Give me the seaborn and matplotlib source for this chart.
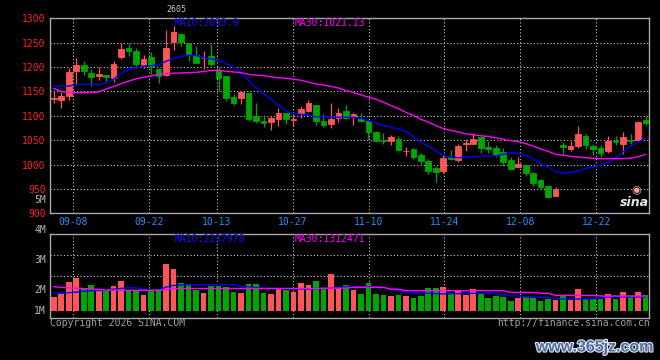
import numpy as np
import pandas as pd
import matplotlib
matplotlib.use("Agg")
import matplotlib.pyplot as plt
import matplotlib.transforms as mtransforms
import matplotlib.patheffects as pe
import seaborn as sns

# ---------------- data ----------------
dates = (["09-%s" % d for d in ["03","04","05","08","09","10","11","12","15","16","17","18","19","22","23","24","25","26","29","30"]]
         + ["10-%s" % d for d in ["09","10","13","14","15","16","17","20","21","22","23","24","27","28","29","30","31"]]
         + ["11-%s" % d for d in ["03","04","05","06","07","10","11","12","13","14","17","18","19","20","21","24","25","26","27","28"]]
         + ["12-%s" % d for d in ["01","02","03","04","05","08","09","10","11","12","15","16","17","18","19","22","23","24","25","26","29","30","31"]])

tick_labels = ["09-08", "09-22", "10-13", "10-27", "11-10", "11-24", "12-08", "12-22"]

opens = [1135, 1132.5, 1141, 1192, 1204, 1187, 1181, 1183, 1178, 1220,
         1240, 1232, 1204, 1220, 1195, 1183, 1251, 1268, 1250, 1224,
         1218, 1223, 1193, 1181, 1138, 1137, 1146, 1099, 1089, 1087,
         1093, 1106, 1091, 1103, 1110.5, 1121.5, 1090, 1083, 1095.5, 1109,
         1097.5, 1093.5, 1088.7, 1066, 1050, 1047.7, 1053, 1027, 1031, 1019,
         1006.7, 992.3, 986, 1015, 1009.4, 1043, 1042, 1056, 1035.4, 1034,
         1025.8, 1008.7, 995, 998.5, 982, 967.7, 956, 934.9, 1039.5, 1031.3,
         1038, 1058.6, 1037.4, 1034, 1028, 1049, 1043, 1051, 1049.7, 1092]
highs = [1150, 1149, 1199, 1218, 1212, 1195, 1201, 1184, 1213, 1250,
         1249, 1239, 1224, 1230, 1198, 1277, 1284, 1268, 1250, 1243,
         1233, 1247, 1200, 1181, 1145, 1148, 1146, 1126, 1101, 1100,
         1116, 1106, 1106, 1121, 1133, 1121.5, 1103, 1126, 1116, 1121.5,
         1105, 1106.5, 1090, 1069.6, 1064, 1060, 1058, 1035.4, 1034, 1023,
         1012, 997.8, 1019, 1029, 1041.5, 1052, 1064, 1056, 1049, 1039.5,
         1034, 1015.5, 1015.5, 998.5, 984.8, 969.8, 956, 953.3, 1046.3, 1049,
         1078.5, 1062, 1041.5, 1039.5, 1058.6, 1058, 1067, 1062, 1090, 1099]
lows = [1127, 1116, 1132, 1163, 1183, 1161, 1173, 1171, 1169, 1216,
        1223, 1199, 1198, 1186, 1167, 1181, 1235, 1243, 1212, 1208,
        1195, 1202, 1150, 1131, 1123, 1125, 1089, 1085, 1077, 1070,
        1080, 1083, 1080, 1096, 1108.5, 1080.5, 1077, 1074, 1087, 1094,
        1081, 1088, 1052.5, 1049, 1042, 1039.5, 1027, 1017.6, 1011, 1002,
        981.4, 964.3, 982, 1010, 1005.3, 1027, 1042, 1024.4, 1024.4, 1015.5,
        997, 990, 995, 976.6, 956, 949, 931.5, 934.9, 1019, 1028,
        1034, 1032.7, 1020.3, 1015.5, 1024.4, 1039.5, 1022, 1043, 1047.7, 1080.5]
closes = [1137, 1140, 1189, 1204, 1192, 1180, 1185, 1180, 1207, 1238,
          1232, 1207, 1216, 1201, 1182, 1239, 1271, 1251, 1226, 1208,
          1219.5, 1206, 1178, 1137, 1127, 1148, 1093.5, 1089, 1086, 1095,
          1106.5, 1093.5, 1094, 1113, 1127, 1090, 1082, 1093, 1105, 1095.5,
          1103, 1088.7, 1067, 1049, 1049, 1056, 1029, 1028, 1015, 1006.7,
          986.8, 984, 1012.8, 1010.8, 1037.4, 1044, 1052, 1034, 1032.7, 1020,
          1005.3, 991.6, 1000.5, 982, 961.5, 953.3, 933.5, 949.2, 1036.8, 1037.4,
          1062, 1039.5, 1032.7, 1024.4, 1048.4, 1047, 1056, 1047.7, 1086.7, 1086]

ma10 = [1160.5, 1160.5, 1161, 1164, 1164.6, 1164.6, 1164.6, 1166.7, 1175, 1187,
        1195, 1199, 1202, 1203, 1204, 1212, 1217, 1222, 1224, 1224,
        1219, 1217, 1213, 1207, 1200, 1188, 1172, 1158, 1145, 1134,
        1122, 1110, 1104, 1103, 1101, 1098, 1097.6, 1097.6, 1097, 1097,
        1097, 1095, 1090, 1085, 1080, 1077, 1073, 1068, 1058, 1046,
        1038, 1028, 1019, 1015, 1014, 1015, 1016, 1017, 1018, 1018,
        1021, 1023.8, 1023, 1019, 1012, 1002, 995, 985, 982, 984,
        987, 992, 995, 999, 1005, 1013, 1026, 1038, 1046, 1053.9]
ma30 = [1156, 1150, 1148, 1147.5, 1147.5, 1148, 1149, 1155, 1160, 1166,
        1171, 1176, 1179, 1182, 1185, 1186.5, 1187.5, 1188, 1188.5, 1189,
        1191, 1193, 1193, 1191.5, 1190, 1188.5, 1185, 1183.5, 1182.4, 1180,
        1178, 1177, 1175, 1173, 1169, 1165.5, 1163, 1160.5, 1157, 1152,
        1148, 1143, 1138, 1134, 1128, 1121, 1115, 1107, 1101, 1093,
        1087, 1080, 1074, 1070, 1067, 1063, 1061, 1059, 1057.5, 1055,
        1052, 1049, 1047, 1043, 1038, 1032, 1027, 1021, 1019, 1017,
        1015.5, 1014, 1013, 1012, 1012, 1012, 1012, 1013, 1016, 1021]

volume = [1.78, 1.87, 2.27, 2.40, 2.07, 2.17, 2.00, 2.03, 2.13, 2.30,
          2.00, 2.00, 1.83, 1.97, 2.03, 2.87, 2.70, 2.23, 2.20, 2.00,
          1.90, 2.13, 2.13, 2.10, 1.93, 1.90, 2.20, 2.20, 1.90, 1.87,
          2.03, 2.00, 1.93, 2.23, 2.17, 2.30, 2.06, 2.53, 2.10, 2.17,
          2.00, 1.87, 2.23, 1.87, 1.83, 1.80, 1.83, 1.80, 1.73, 1.80,
          2.07, 2.07, 2.10, 1.90, 1.97, 1.83, 2.03, 1.87, 1.73, 1.80,
          1.77, 1.63, 1.73, 1.77, 1.73, 1.63, 1.70, 1.67, 1.80, 1.67,
          2.03, 1.70, 1.70, 1.70, 1.87, 1.70, 1.93, 1.77, 1.93, 1.83]
vol_ma10 = [1.89, 1.89, 1.91, 1.93, 1.96, 1.98, 1.98, 2.00, 2.03, 2.05,
            2.08, 2.08, 2.02, 1.98, 2.00, 2.10, 2.15, 2.17, 2.17, 2.17,
            2.18, 2.18, 2.18, 2.18, 2.18, 2.12, 2.10, 2.08, 2.07, 2.06,
            2.05, 2.05, 2.04, 2.04, 2.03, 2.05, 2.05, 2.06, 2.08, 2.10,
            2.11, 2.11, 2.11, 2.10, 2.08, 2.03, 1.98, 1.92, 1.89, 1.89,
            1.89, 1.88, 1.87, 1.87, 1.88, 1.89, 1.89, 1.89, 1.89, 1.89,
            1.84, 1.81, 1.80, 1.77, 1.76, 1.76, 1.74, 1.71, 1.70, 1.70,
            1.70, 1.70, 1.71, 1.74, 1.76, 1.77, 1.77, 1.77, 1.77, 1.77]
vol_ma30 = [2.11, 2.09, 2.07, 2.06, 2.05, 2.03, 2.02, 2.00, 1.99, 1.99,
            1.99, 1.99, 1.99, 1.99, 1.99, 2.02, 2.05, 2.05, 2.05, 2.05,
            2.05, 2.05, 2.05, 2.05, 2.05, 2.05, 2.05, 2.05, 2.05, 2.05,
            2.05, 2.05, 2.05, 2.05, 2.05, 2.05, 2.06, 2.06, 2.06, 2.06,
            2.09, 2.09, 2.09, 2.09, 2.09, 2.03, 2.03, 1.98, 1.98, 1.98,
            1.98, 1.98, 1.98, 1.98, 1.98, 1.98, 1.98, 1.98, 1.98, 1.98,
            1.98, 1.92, 1.92, 1.92, 1.92, 1.89, 1.89, 1.82, 1.82, 1.82,
            1.82, 1.82, 1.82, 1.80, 1.80, 1.80, 1.80, 1.80, 1.80, 1.80]

price_ticks = [900, 950, 1000, 1050, 1100, 1150, 1200, 1250, 1300]
vol_labels = ["5M", "4M", "3M", "2M"]
vol_label_vals = [5, 4, 3, 2]
vol_base = 1.3   # bars rise from here (labelled "1M" in the source)

legend_main = ["MA10:1053.9", "MA30:1021.13"]
legend_vol = ["MA10:1237978", "MA30:1312471"]

# ---------------- style ----------------
sns.set_style("dark", {"axes.facecolor": "black", "figure.facecolor": "black"})
plt.rcParams["font.family"] = ["DejaVu Sans Mono", "DejaVu Sans"]

UP = "#FF5555"
DOWN = "#00A600"
GRID = "#C8C8C8"
BORDER = "#A8A8A8"
FS = 7

W, H = 660, 360
fig = plt.figure(figsize=(6.6, 3.6), dpi=100)
fig.patch.set_facecolor("black")

def fx(px):
    return px / W

def fy(py):
    return 1 - py / H

ax = fig.add_axes([fx(50), fy(213.3), fx(649.3) - fx(50), fy(18.3) - fy(213.3)])
axv = fig.add_axes([fx(50), fy(318.3), fx(649.3) - fx(50), fy(234.3) - fy(318.3)])

df = pd.DataFrame({"date": dates, "open": opens, "high": highs, "low": lows,
                   "close": closes, "ma10": ma10, "ma30": ma30,
                   "vol": volume, "vma10": vol_ma10, "vma30": vol_ma30})
df["i"] = np.arange(len(df))
df["up"] = df["close"] >= df["open"]
df["col"] = np.where(df["up"], UP, DOWN)
n = len(df)

# grid positions (source spaces grid lines by i/(n-1) of the width)
tick_idx = [dates.index(t) for t in tick_labels]
grid_x = [-0.5 + n * k / (n - 1) for k in tick_idx]

for a in (ax, axv):
    a.set_facecolor("black")
    a.set_xlim(-0.5, n - 0.5)
    a.set_xticks(grid_x)
    a.grid(True, axis="x", color=GRID, linestyle=(0, (1, 2)), linewidth=0.8)
    a.set_axisbelow(True)
    for s in a.spines.values():
        s.set_color(BORDER)
        s.set_linewidth(1.0)
        s.set_visible(True)

# ---- price panel ----
ax.set_ylim(900, 1300)
ax.set_yticks(price_ticks)
ax.grid(True, axis="y", color=GRID, linestyle=(0, (1, 2)), linewidth=0.8)
ax.tick_params(axis="y", length=0, pad=3, labelsize=FS, labelcolor="#FF2020")
ax.tick_params(axis="x", length=0, pad=2.5, labelsize=FS, labelcolor="#1E90FF")
ax.set_xticklabels(tick_labels)

ax.vlines(df["i"], df["low"], df["high"], colors=df["col"], linewidth=0.9, zorder=3)
ax.bar(df["i"], (df["close"] - df["open"]).abs(), bottom=df[["open", "close"]].min(axis=1),
       width=0.75, color=df["col"], edgecolor=df["col"], linewidth=0.6, zorder=4)

sns.lineplot(data=df, x="i", y="ma10", ax=ax, color="#0000FF", linewidth=1.0, zorder=5)
sns.lineplot(data=df, x="i", y="ma30", ax=ax, color="#FF00FF", linewidth=1.0, zorder=5)
ax.set_xlabel("")
ax.set_ylabel("")

# ---- volume panel ----
v_lo = 4 - (318.3 - 230) / 30.0
v_hi = 4 - (234.3 - 230) / 30.0
axv.set_ylim(v_lo, v_hi)
axv.set_yticks([v_lo + 0.5 * (v_hi - v_lo), v_lo + 0.75 * (v_hi - v_lo)])
axv.set_yticklabels([])
axv.set_xticklabels([])
axv.grid(True, axis="y", color=GRID, linestyle=(0, (1, 2)), linewidth=0.8)
axv.tick_params(length=0)
axv.bar(df["i"], df["vol"] - vol_base, bottom=vol_base, width=0.75,
        color=df["col"], linewidth=0, zorder=3)
sns.lineplot(data=df, x="i", y="vma10", ax=axv, color="#0000FF", linewidth=1.0, zorder=5)
sns.lineplot(data=df, x="i", y="vma30", ax=axv, color="#FF00FF", linewidth=1.0, zorder=5)
axv.set_xlabel("")
axv.set_ylabel("")

trans = mtransforms.blended_transform_factory(axv.transAxes, axv.transData)
for lab, v in zip(vol_labels, vol_label_vals):
    axv.text(-0.007, v, lab, transform=trans, ha="right", va="center",
             fontsize=FS, color="#B4B4B4", clip_on=False)
axv.text(-0.007, vol_base, "1M", transform=trans, ha="right", va="center",
         fontsize=FS, color="#B4B4B4", clip_on=False)

# ---- texts ----
fig.text(fx(175), fy(23), legend_main[0], color="#1010FF", fontsize=FS, va="center", ha="left")
fig.text(fx(295), fy(23), legend_main[1], color="#FF00FF", fontsize=FS, va="center", ha="left")
fig.text(fx(175), fy(239), legend_vol[0], color="#1010FF", fontsize=FS, va="center", ha="left")
fig.text(fx(295), fy(239), legend_vol[1], color="#FF00FF", fontsize=FS, va="center", ha="left")
fig.text(fx(176), fy(10), "2605", color="#C8C8C8", fontsize=6, va="center", ha="center")
fig.text(fx(50), fy(323.5), "Copyright 2026 SINA.COM", color="#A0A0A0", fontsize=FS, va="center", ha="left")
fig.text(fx(649.5), fy(323.5), "http://finance.sina.com.cn", color="#A0A0A0", fontsize=FS, va="center", ha="right")
fig.text(fx(634), fy(202), "sina", color="#E8E8E8", fontsize=9, fontweight="bold", style="italic",
         family="DejaVu Sans", va="center", ha="center")
fig.text(fx(636), fy(190), "\u25C9", color="#F0A0A0", fontsize=8, family="DejaVu Sans", va="center", ha="center")
fig.text(fx(595), fy(347), "www.365jz.com", color="#4F6E9E", fontsize=11.5, fontweight="bold",
         family="Liberation Sans", va="center", ha="center",
         path_effects=[pe.withStroke(linewidth=1.6, foreground="#DDE6F2")])

fig.savefig("out.png", dpi=100, facecolor="black")
